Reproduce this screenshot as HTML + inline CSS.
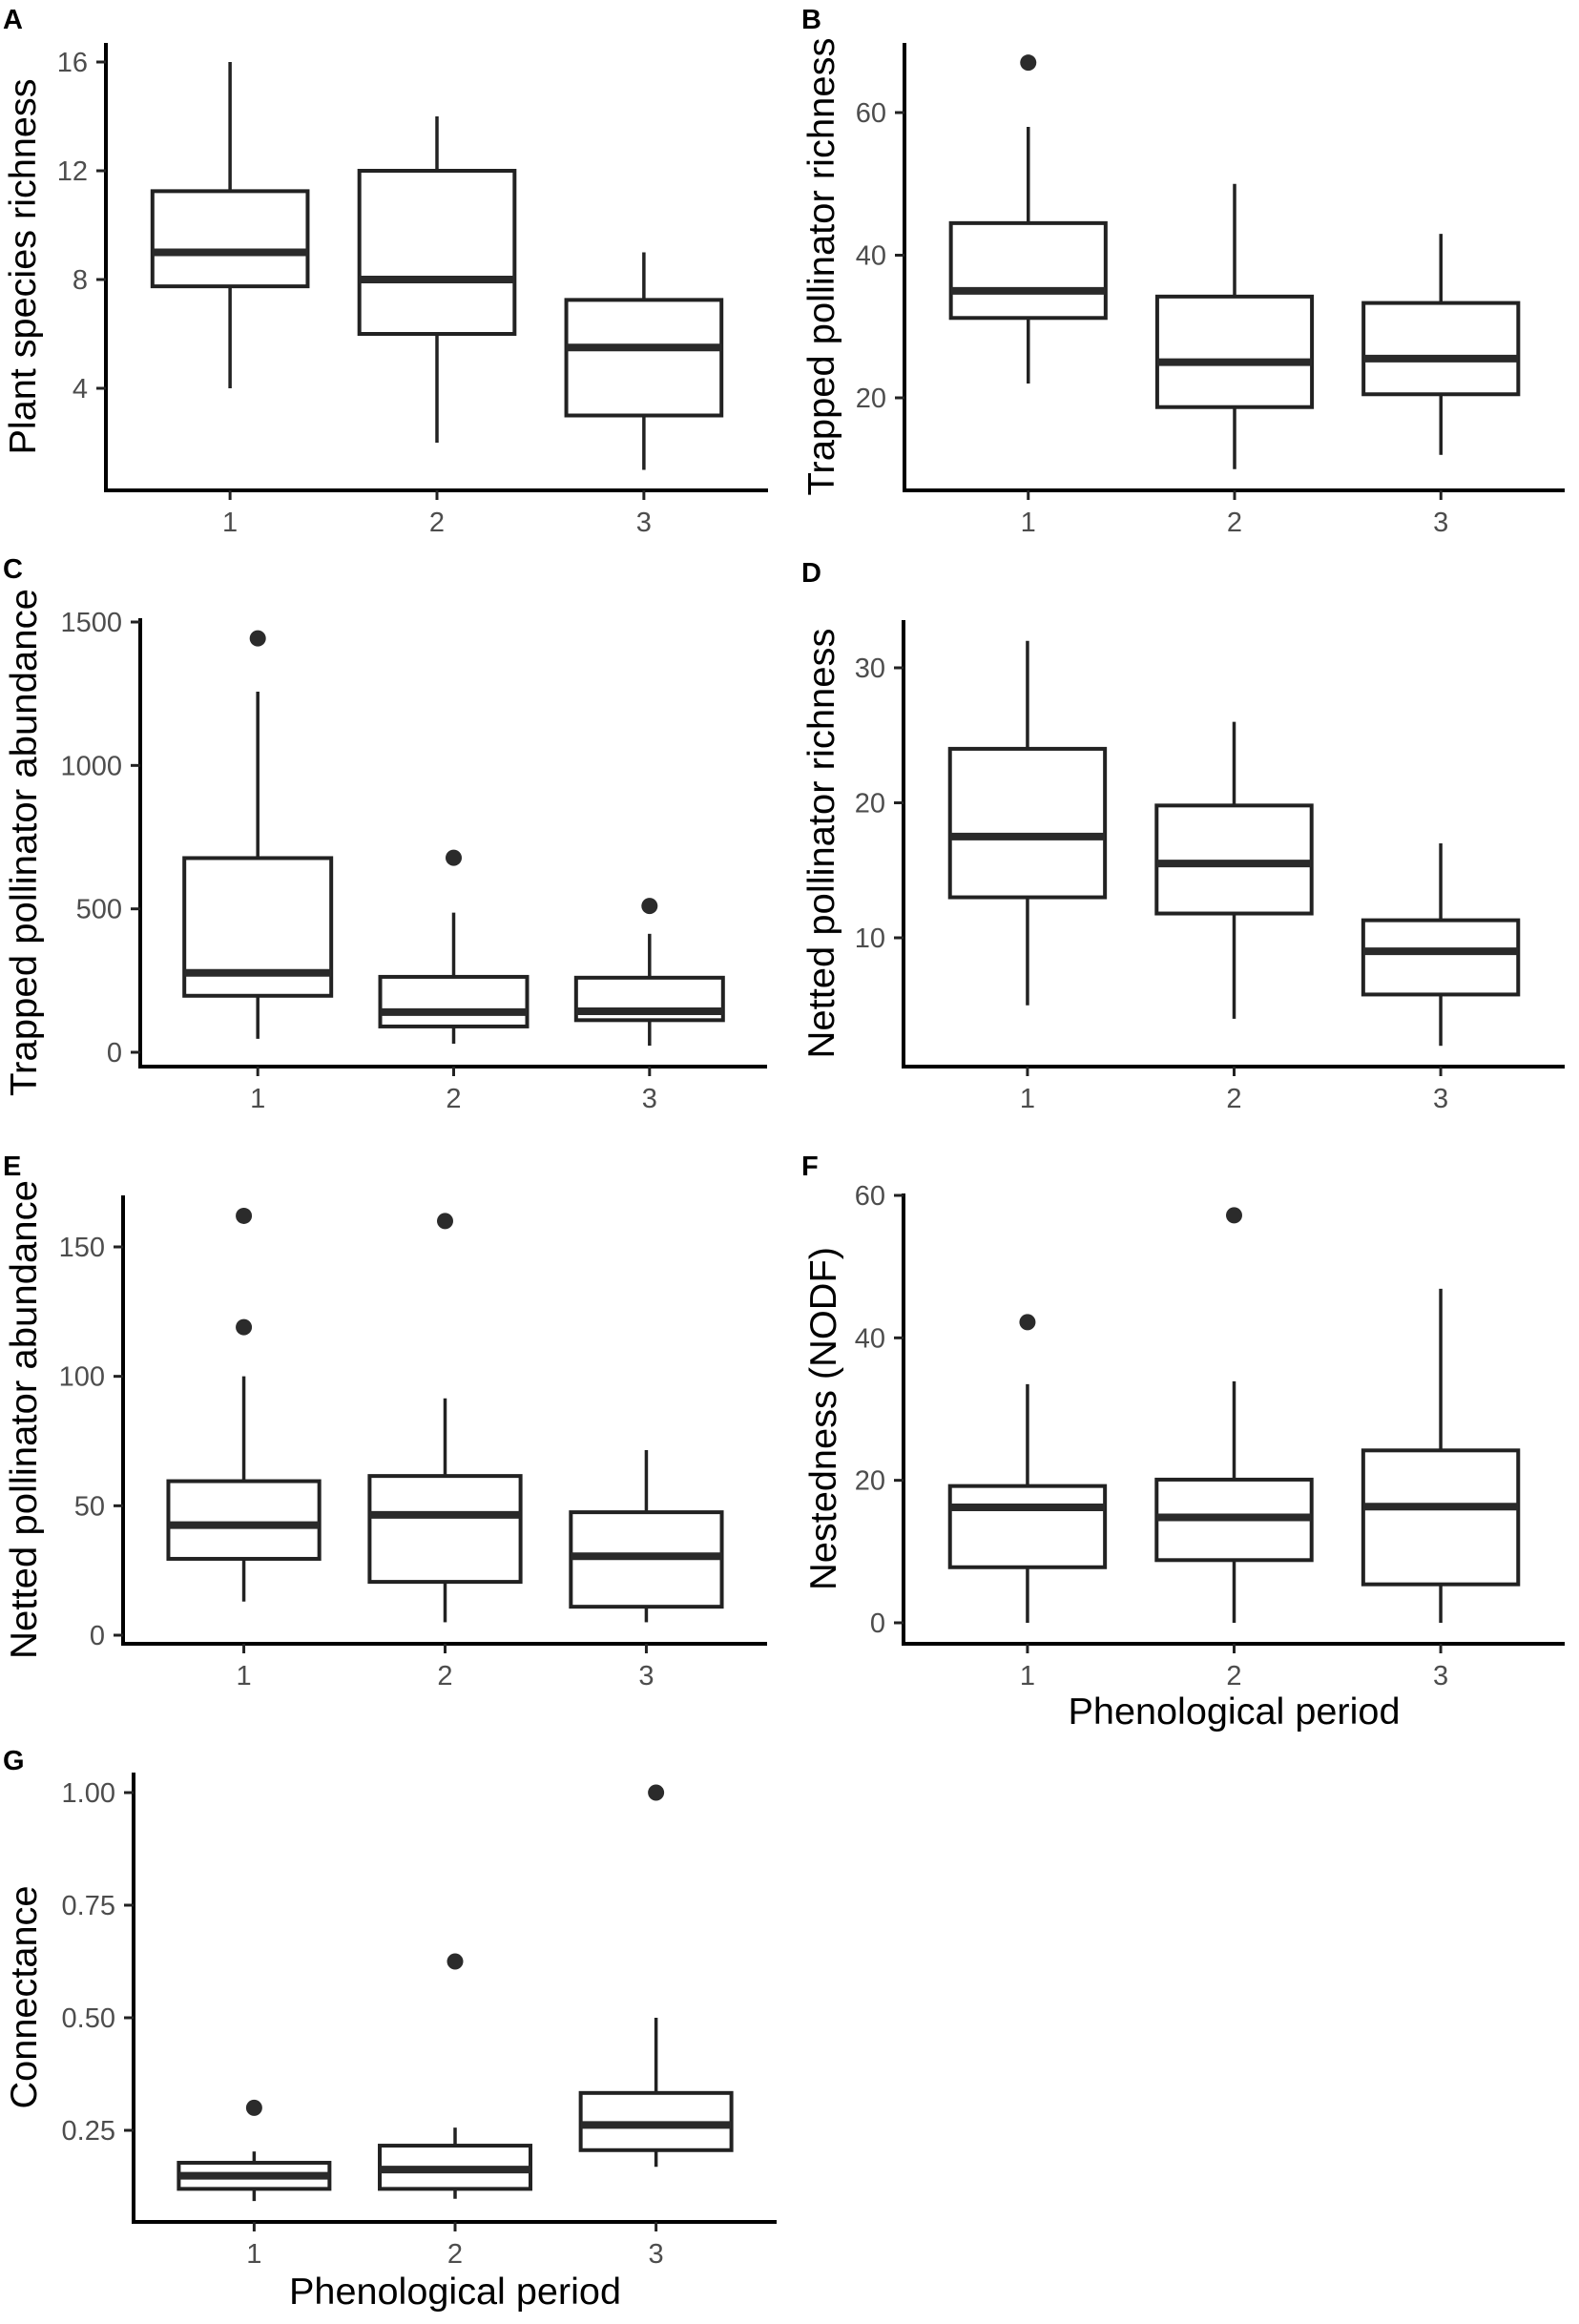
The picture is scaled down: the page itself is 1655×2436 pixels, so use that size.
<!DOCTYPE html>
<html><head><meta charset="utf-8"><style>
html,body{margin:0;padding:0;background:#fff;}
svg{display:block;font-family:"Liberation Sans",Arial,sans-serif;}
</style></head><body>
<svg id="fig" xmlns="http://www.w3.org/2000/svg" width="1655" height="2436" viewBox="0 0 1655 2436"></svg>
<script>
// ---- data ----
const categories = ["1","2","3"];
// Panel A: Plant species richness
const aLower=[4,2,1], aQ1=[7.75,6,3], aMed=[9,8,5.5], aQ3=[11.25,12,7.25], aUpper=[16,14,9];
const aOut=[[],[],[]]; const aTicks=[4,8,12,16];
// Panel B: Trapped pollinator richness
const bLower=[22,10,12], bQ1=[31.2,18.7,20.5], bMed=[35,25,25.5], bQ3=[44.5,34.2,33.3], bUpper=[58,50,43];
const bOut=[[67],[],[]]; const bTicks=[20,40,60];
// Panel C: Trapped pollinator abundance
const cLower=[47,30,23], cQ1=[197,90,112], cMed=[277,140,143], cQ3=[677,263,260], cUpper=[1257,487,413];
const cOut=[[1443],[678],[510]]; const cTicks=[0,500,1000,1500];
// Panel D: Netted pollinator richness
const dLower=[5,4,2], dQ1=[13,11.8,5.8], dMed=[17.5,15.5,9], dQ3=[24,19.8,11.3], dUpper=[32,26,17];
const dOut=[[],[],[]]; const dTicks=[10,20,30];
// Panel E: Netted pollinator abundance
const eLower=[13,5,5], eQ1=[29.5,20.6,11], eMed=[42.5,46.5,30.5], eQ3=[59.5,61.5,47.5], eUpper=[100,91.5,71.5];
const eOut=[[162,119],[160],[]]; const eTicks=[0,50,100,150];
// Panel F: Nestedness (NODF)
const fLower=[0,0,0], fQ1=[7.8,8.8,5.4], fMed=[16.2,14.8,16.3], fQ3=[19.2,20.1,24.2], fUpper=[33.5,33.9,46.9];
const fOut=[[42.2],[57.2],[]]; const fTicks=[0,20,40,60];
// Panel G: Connectance
const gLower=[0.093,0.098,0.169], gQ1=[0.12,0.12,0.206], gMed=[0.149,0.163,0.262], gQ3=[0.178,0.216,0.333], gUpper=[0.203,0.256,0.5];
const gOut=[[0.3],[0.625],[1.0]]; const gTicks=[0.25,0.5,0.75,1.0];
const gTickLabels=["0.25","0.50","0.75","1.00"];

// ---- layout ----
const NS="http://www.w3.org/2000/svg";
const svg=document.getElementById('fig');
function mk(tag,attrs,parent){const e=document.createElementNS(NS,tag);for(const k in attrs)e.setAttribute(k,attrs[k]);(parent||svg).appendChild(e);return e;}

const panels=[
 {id:"a",letter:"A",lx:3,ly:30,L:111,R:805,top:45,bottom:514,v0:16,y0:65,v1:4,y1:407,title:"Plant species richness",tx:23,tlen:394,
  lower:aLower,q1:aQ1,med:aMed,q3:aQ3,upper:aUpper,out:aOut,ticks:aTicks},
 {id:"b",letter:"B",lx:840,ly:30,L:948,R:1640,top:45,bottom:514,v0:60,y0:118,v1:20,y1:417,title:"Trapped pollinator richness",tx:860,tlen:480,
  lower:bLower,q1:bQ1,med:bMed,q3:bQ3,upper:bUpper,out:bOut,ticks:bTicks},
 {id:"c",letter:"C",lx:3,ly:606,L:147,R:804,top:648,bottom:1118,v0:1500,y0:652,v1:0,y1:1103,title:"Trapped pollinator abundance",tx:24,tlen:532,
  lower:cLower,q1:cQ1,med:cMed,q3:cQ3,upper:cUpper,out:cOut,ticks:cTicks},
 {id:"d",letter:"D",lx:840,ly:610,L:947,R:1640,top:650,bottom:1118,v0:30,y0:700,v1:10,y1:983,title:"Netted pollinator richness",tx:860,tlen:451,
  lower:dLower,q1:dQ1,med:dMed,q3:dQ3,upper:dUpper,out:dOut,ticks:dTicks},
 {id:"e",letter:"E",lx:3,ly:1232,L:129,R:804,top:1253,bottom:1723,v0:150,y0:1307,v1:0,y1:1714,title:"Netted pollinator abundance",tx:24,tlen:502,
  lower:eLower,q1:eQ1,med:eMed,q3:eQ3,upper:eUpper,out:eOut,ticks:eTicks},
 {id:"f",letter:"F",lx:840,ly:1232,L:947,R:1640,top:1251,bottom:1723,v0:60,y0:1253,v1:0,y1:1701,title:"Nestedness (NODF)",tx:862,tlen:360,
  lower:fLower,q1:fQ1,med:fMed,q3:fQ3,upper:fUpper,out:fOut,ticks:fTicks,xtitle:1807},
 {id:"g",letter:"G",lx:3,ly:1855,L:140,R:814,top:1858,bottom:2329,v0:1,y0:1879,v1:0.25,y1:2233,title:"Connectance",tx:24,tlen:234,
  lower:gLower,q1:gQ1,med:gMed,q3:gQ3,upper:gUpper,out:gOut,ticks:gTicks,tickLabels:gTickLabels,xtitle:2415}
];

panels.forEach(p=>{
  const g=mk('g',{});
  
  
  const step=(p.R-p.L)/3.2;
  const xs=i=>p.L+(i+0.6)*step;
  const ys=v=>p.y0+(v-p.v0)*(p.y1-p.y0)/(p.v1-p.v0);
  const bw=0.75*step;

  const lt=mk('text',{x:p.lx,y:p.ly,'font-size':29,'font-weight':'bold',fill:'#000'},g);
  lt.textContent=p.letter;
  
  

  // boxes
  categories.forEach((c,i)=>{
    const bx=mk('g',{},g);
    
    
    const cx=xs(i);
    mk('line',{x1:cx,x2:cx,y1:ys(p.upper[i]),y2:ys(p.q3[i]),stroke:'#222','stroke-width':3.5},bx);
    mk('line',{x1:cx,x2:cx,y1:ys(p.q1[i]),y2:ys(p.lower[i]),stroke:'#222','stroke-width':3.5},bx);
    const y3=ys(p.q3[i]),y1=ys(p.q1[i]);
    mk('rect',{x:cx-bw/2,y:y3,width:bw,height:y1-y3,fill:'#fff',stroke:'#222','stroke-width':4},bx);
    mk('line',{x1:cx-bw/2,x2:cx+bw/2,y1:ys(p.med[i]),y2:ys(p.med[i]),stroke:'#2a2a2a','stroke-width':8},bx);
    p.out[i].forEach(v=>{
      const o=mk('circle',{cx:cx,cy:ys(v),r:8.5,fill:'#2b2b2b'},bx);
      
      
    });
  });

  // axes
  const ya=mk('line',{x1:p.L,x2:p.L,y1:p.top,y2:p.bottom+2,stroke:'#000','stroke-width':4},g);
  
  
  const xa=mk('line',{x1:p.L-2,x2:p.R,y1:p.bottom,y2:p.bottom,stroke:'#000','stroke-width':4},g);
  
  

  p.ticks.forEach((v,k)=>{
    const y=ys(v);
    mk('line',{x1:p.L-10,x2:p.L,y1:y,y2:y,stroke:'#222','stroke-width':3},g);
    const t=mk('text',{x:p.L-19,y:y+10,'font-size':29,fill:'#4d4d4d','text-anchor':'end'},g);
    t.textContent=p.tickLabels?p.tickLabels[k]:String(v);
    
    
  });
  categories.forEach((c,i)=>{
    const x=xs(i);
    mk('line',{x1:x,x2:x,y1:p.bottom,y2:p.bottom+10,stroke:'#222','stroke-width':3},g);
    const t=mk('text',{x:x,y:p.bottom+43,'font-size':29,fill:'#4d4d4d','text-anchor':'middle'},g);
    t.textContent=c;
    
    
  });

  const cy=(p.top+p.bottom)/2;
  const yt=mk('text',{x:0,y:0,'font-size':39,fill:'#000','text-anchor':'middle',textLength:p.tlen,lengthAdjust:'spacingAndGlyphs',
    transform:'translate('+(p.tx+14)+','+cy+') rotate(-90)'},g);
  yt.textContent=p.title;
  
  

  if(p.xtitle){
    const xt=mk('text',{x:(p.L+p.R)/2,y:p.xtitle,'font-size':39,fill:'#000','text-anchor':'middle',textLength:348,lengthAdjust:'spacingAndGlyphs'},g);
    xt.textContent="Phenological period";
    
    
  }
});
</script>
</body></html>
